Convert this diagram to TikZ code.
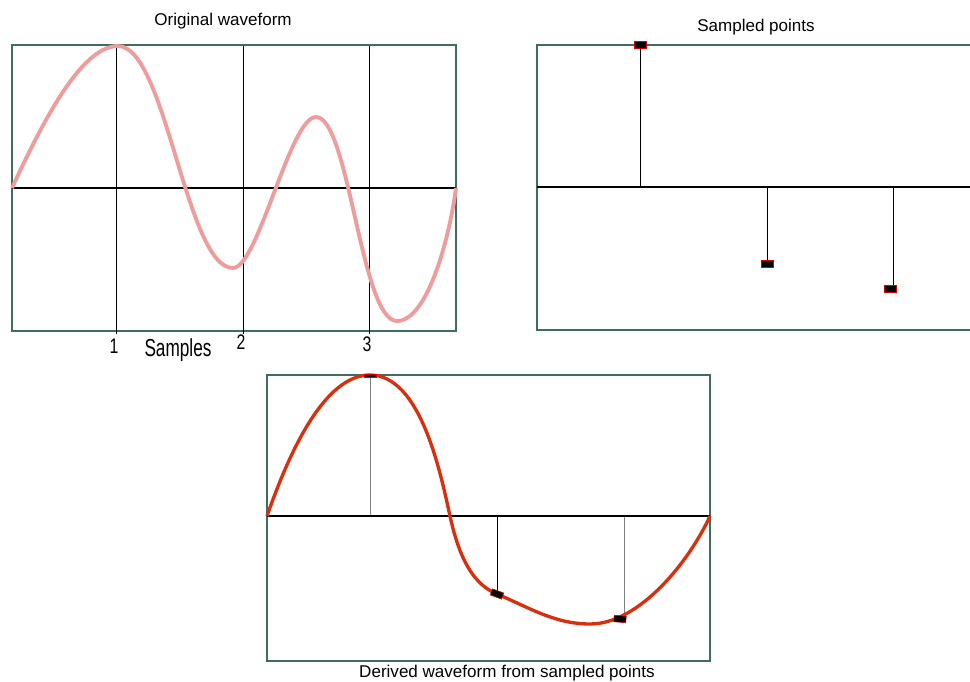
\documentclass[tikz,border=0pt]{standalone}
\usepackage{fontspec}
\setmainfont{Liberation Sans}
\usetikzlibrary{positioning}

\definecolor{framegreen}{HTML}{3F6E5E}
\definecolor{origpink}{HTML}{EE9C9C}
\definecolor{derivedred}{HTML}{D8300F}

\begin{document}
\begin{tikzpicture}[x={(0.02cm,0)}, y={(0,-0.02cm)},
    frame/.style={draw=framegreen, line width=1pt},
    axis/.style={draw=black, line width=1pt},
    stem/.style={draw=black, line width=0.5pt},
    title/.style={font=\fontsize{9.7}{11}\selectfont, inner sep=0pt},
    tick/.style={font=\fontsize{12}{12}\selectfont, inner sep=0pt},
    sample/.style={draw=red!85!black, fill=black, line width=0.3pt, minimum width=0.24cm, minimum height=0.13cm, inner sep=0pt}]
    \useasboundingbox (0,0) rectangle (970,682);

    % original waveform
    \draw[frame] (12,45) rectangle (456,331);
    \foreach \x in {116,243,369}
        \draw[stem] (\x,46) -- (\x,334);
    \draw[axis] (12,188) -- (456,188);
    \draw[origpink, line width=2.2pt]
        (12,188) .. controls (40,128) and (80,46) .. (118,46)
        .. controls (166,46) and (186,268) .. (233,268)
        .. controls (258,268) and (290,117) .. (316,117)
        .. controls (349,117) and (361,321) .. (397,321)
        .. controls (428,321) and (450,235) .. (456,188);
    \node[title] (orig) at (223,21) {Original waveform};
    \node[tick] (s1) at (114,346) {\scalebox{0.75}[1]{1}};
    \node[tick] (s2) at (241,342) {\scalebox{0.75}[1]{2}};
    \node[tick] (s3) at (367,344) {\scalebox{0.75}[1]{3}};
    \node[font=\fontsize{14}{14}\selectfont, inner sep=0pt] (samples) at (178,350) {\scalebox{0.7}[1]{Samples}};

    % sampled points
    \draw[frame] (970,45) -- (537,45) -- (537,330) -- (970,330);
    \draw[axis] (537,187) -- (970,187);
    \node[title] (sampled) at (756,27) {Sampled points};
    \node[sample] (p1) at (640,45) {};
    \node[sample] (p2) at (767,264) {};
    \node[sample] (p3) at (890,289) {};
    \coordinate (a1) at (640,187);
    \coordinate (a2) at (767,187);
    \coordinate (a3) at (893,187);
    \draw[stem] (a1) -- (p1.south);
    \draw[stem] (a2) -- (p2.north);
    \draw[stem] (a3) -- (p3.north -| a3);

    % derived waveform
    \draw[frame] (267,375) rectangle (710,661);
    \coordinate (b1) at (370,516);
    \coordinate (b2) at (497,516);
    \coordinate (b3) at (624,516);
    \coordinate (c1) at (370,376);
    \coordinate (c2) at (497,594);
    \coordinate (c3) at (620,619);
    \draw[stem, gray] (b1) -- (c1);
    \draw[stem] (b2) -- (c2);
    \draw[stem, gray] (b3) -- (c3 -| b3);
    \draw[axis] (267,516) -- (710,516);
    \draw[derivedred, line width=1.9pt]
        (267,516) .. controls (290,450) and (325,375) .. (370,375)
        .. controls (420,375) and (440,470) .. (450,516)
        .. controls (460,562) and (475,585) .. (497,594)
        .. controls (530,608) and (555,624) .. (590,624)
        .. controls (640,624) and (690,560) .. (710,516);
    \node[sample, minimum height=0.07cm] (q1) at (c1) {};
    \node[sample, rotate=-20] (q2) at (c2) {};
    \node[sample, rotate=-5] (q3) at (c3) {};
    \node[title] (derived) at (507,673) {Derived waveform from sampled points};
\end{tikzpicture}
\end{document}
